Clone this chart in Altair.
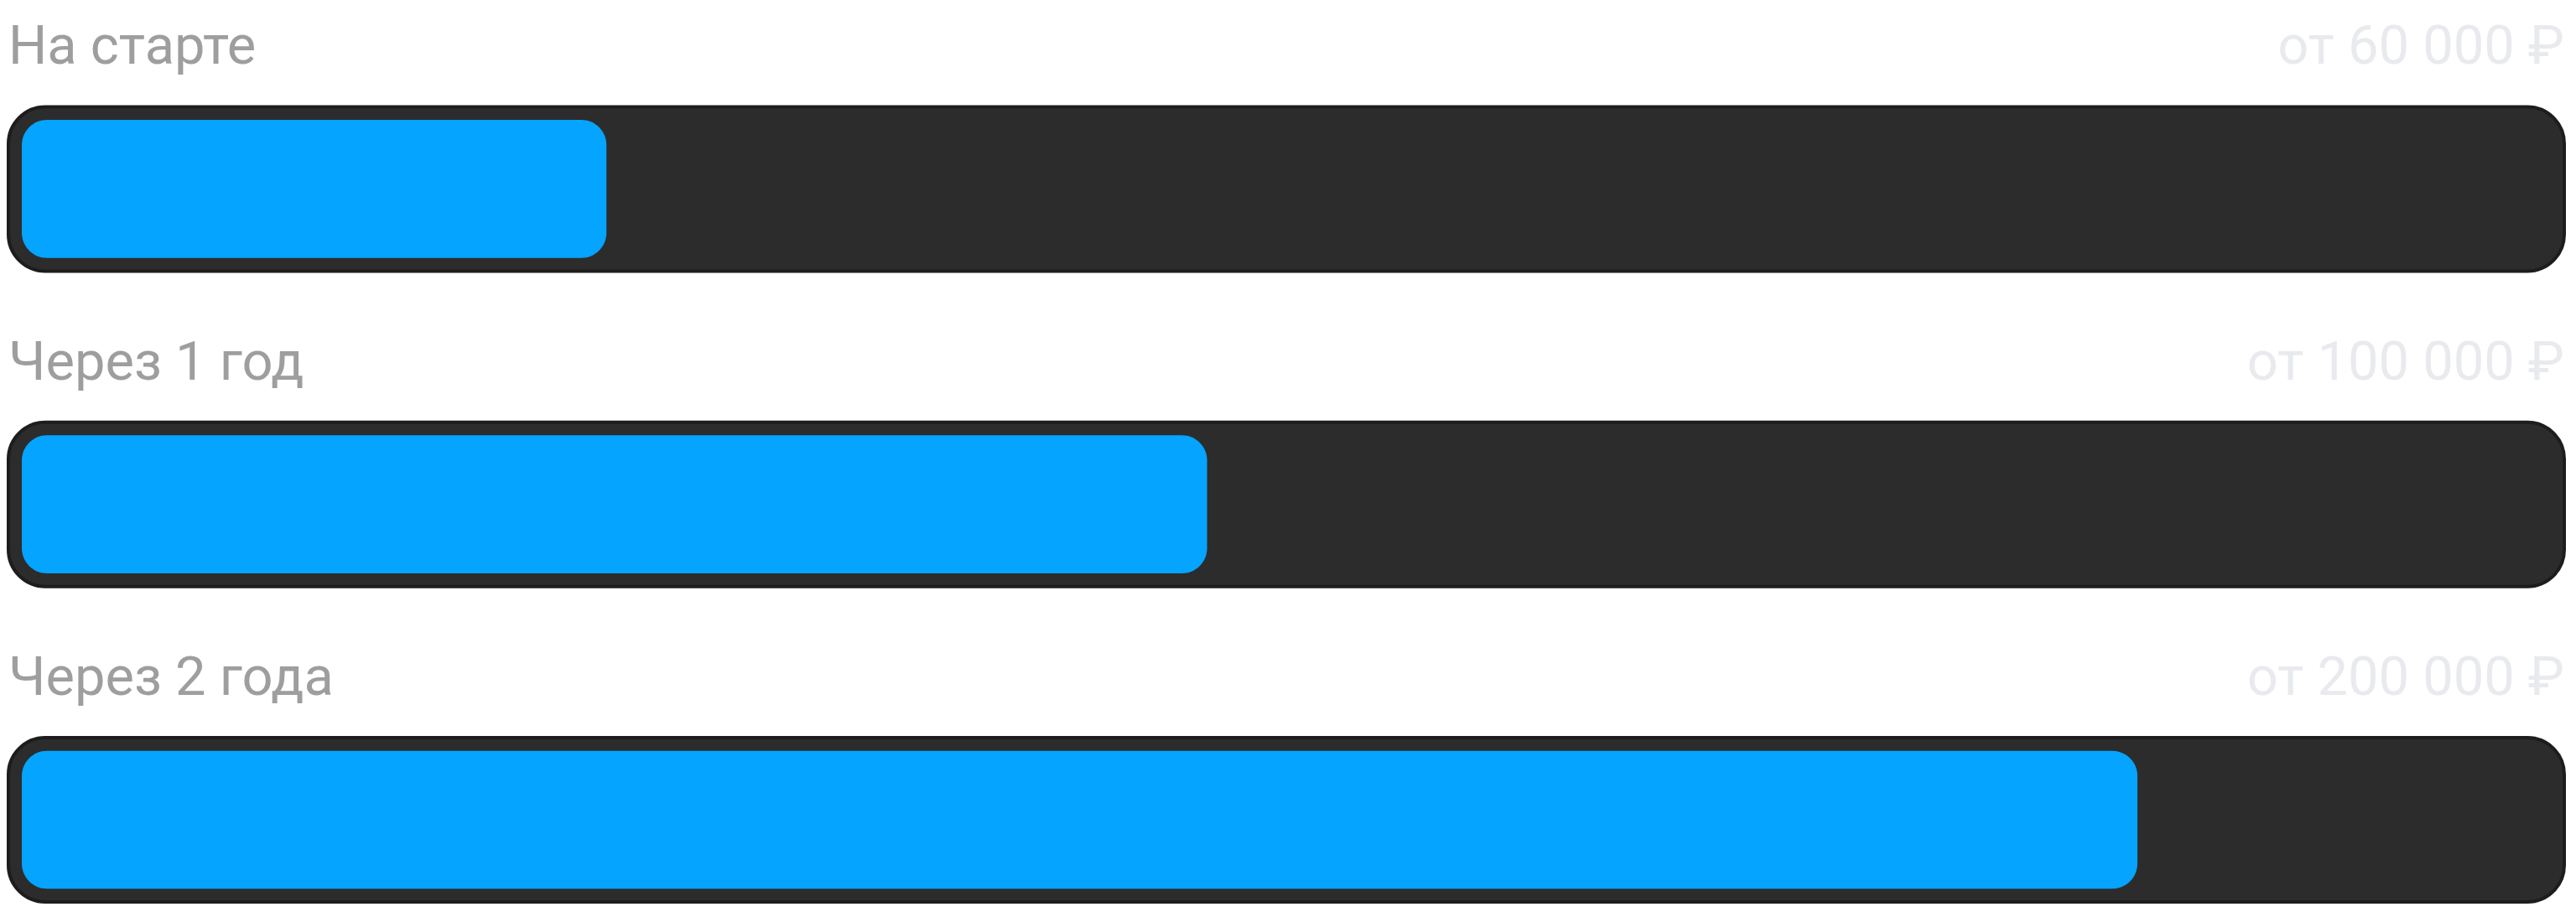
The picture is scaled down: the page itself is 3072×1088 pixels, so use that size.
import altair as alt
import pandas as pd

stages = ["На старте", "Через 1 год", "Через 2 года"]
prices = ["от 60 000 ₽", "от 100 000 ₽", "от 200 000 ₽"]
fill_pct = [23.4, 46.9, 83.3]

df = pd.DataFrame({"stage": stages, "price": prices, "fill": fill_pct})
df["start"] = 0
df["full"] = 100

W, H = 3048, 1066

y_scale = alt.Scale(domain=stages, paddingInner=0.479, paddingOuter=0.156, align=1)
x_scale = alt.Scale(domain=[0, 100], nice=False)

base = alt.Chart(df)

# dark track behind each row
track = base.mark_bar(
    color="#2c2c2c", stroke="#1d1d1d", strokeWidth=4, cornerRadius=44
).encode(
    y=alt.Y("stage:N", scale=y_scale, axis=None),
    x=alt.X("start:Q", scale=x_scale, axis=None),
    x2="full:Q",
)

# blue progress, inset into the track
fill = base.mark_bar(
    color="#04a4ff", cornerRadius=30, height={"band": 0.84}, xOffset=16
).encode(
    y=alt.Y("stage:N", scale=y_scale, axis=None),
    x=alt.X("start:Q", scale=x_scale, axis=None),
    x2="fill:Q",
)

left_label = base.mark_text(
    align="left", baseline="alphabetic", font="Roboto", fontSize=65,
    color="#9e9e9e", dy=-51
).encode(
    y=alt.Y("stage:N", scale=y_scale, axis=None, bandPosition=0),
    x=alt.X(datum=0, scale=x_scale, axis=None),
    text="stage:N",
)

right_label = base.mark_text(
    align="right", baseline="alphabetic", font="Roboto", fontSize=65,
    color="#e8eaee", dy=-51
).encode(
    y=alt.Y("stage:N", scale=y_scale, axis=None, bandPosition=0),
    x=alt.X(datum=100, scale=x_scale, axis=None),
    text="price:N",
)

chart = alt.layer(track, fill, left_label, right_label).properties(
    width=W, height=H,
    padding=2,
    autosize=alt.AutoSizeParams(type="none"),
).configure_view(stroke=None)

chart.save("out.html", embed_options={"renderer": "svg", "actions": False})
